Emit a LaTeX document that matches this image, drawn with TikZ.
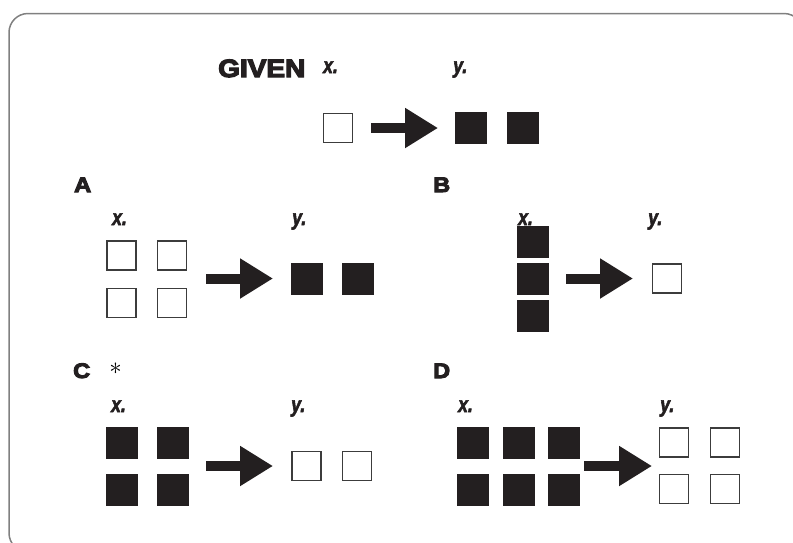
\documentclass[tikz,border=0pt]{standalone}
\usepackage{fontspec}
\usepackage{tikz}
\usetikzlibrary{arrows.meta, positioning}
\newfontfamily\titlefont{Liberation Sans}[BoldFeatures={FakeBold=5, FakeStretch=1.12}]
\newfontfamily\varfont{Liberation Sans}[BoldItalicFeatures={FakeBold=2.5, FakeStretch=0.8}]
\definecolor{boxblack}{HTML}{231F20}
\definecolor{framegray}{HTML}{808080}
\definecolor{boxedge}{HTML}{3C3C3C}
\tikzset{
	whitebox/.style = {shape=rectangle, draw=boxedge, line width=1.2pt,
		fill=white, minimum size=29pt, inner sep=0pt},
	blackbox/.style = {shape=rectangle, draw=boxblack, fill=boxblack,
		minimum size=31pt, inner sep=0pt},
	letter/.style   = {inner sep=0pt, anchor=base west, text=boxblack,
		font=\titlefont\bfseries\fontsize{21}{21}\selectfont},
	varlabel/.style = {inner sep=0pt, anchor=base west, text=boxblack,
		font=\varfont\bfseries\itshape\fontsize{22}{22}\selectfont},
	bigarrow/.style = {draw=boxblack, line width=10pt,
		-{Triangle[length=33pt, width=38pt]}}
}
\begin{document}
\begin{tikzpicture}
	[
	x = 1pt,
	y = -1pt
	]
	\useasboundingbox (0,0) rectangle (793,542);
	\draw [framegray, line width=1.5pt, rounded corners=19pt] (9,13.5) rectangle (803,552);

	% given
	\node [letter, font=\titlefont\bfseries\fontsize{25}{25}\selectfont] (given) at (218,77) {GIVEN};
	\node [varlabel] (givenx) at (323,73) {x.};
	\node [varlabel] (giveny) at (453,73) {y.};
	\node [whitebox] (G1) at (338,128) {};
	\node [blackbox] (G2) at (471,128) {};
	\node [blackbox, right=20pt of G2] (G3) {};
	\coordinate (Gfrom) at (371,128);
	\coordinate (Gto) at (438,128);
	\draw [bigarrow] (Gfrom) -- (Gto);

	% A
	\node [letter] (labA) at (74,192) {A};
	\node [varlabel] (Ax) at (112,225) {x.};
	\node [varlabel] (Ay) at (292,225) {y.};
	\node [whitebox] (A11) at (121.5,255.5) {};
	\node [whitebox, right=20pt of A11] (A12) {};
	\node [whitebox, below=17pt of A11] (A21) {};
	\node [whitebox, below=17pt of A12] (A22) {};
	\node [blackbox] (A31) at (306.5,278.5) {};
	\node [blackbox, right=20pt of A31] (A32) {};
	\coordinate (Afrom) at (206,278.5);
	\coordinate (Ato) at (273,278.5);
	\draw [bigarrow] (Afrom) -- (Ato);

	% B
	\node [letter] (labB) at (433,192) {B};
	\node [varlabel] (Bx) at (518,225) {x.};
	\node [varlabel] (By) at (648,225) {y.};
	\node [blackbox] (B1) at (532.5,242) {};
	\node [blackbox, below=5.5pt of B1] (B2) {};
	\node [blackbox, below=5.5pt of B2] (B3) {};
	\node [whitebox] (B4) at (667,278.5) {};
	\coordinate (Bfrom) at (566,278.5);
	\coordinate (Bto) at (633,278.5);
	\draw [bigarrow] (Bfrom) -- (Bto);

	% C
	\node [letter] (labC) at (73,378) {C};
	\node [inner sep=0pt, font=\fontsize{26}{26}\selectfont] (star) at (115.5,369) {$\ast$};
	\node [varlabel] (Cx) at (111,412) {x.};
	\node [varlabel] (Cy) at (291,412) {y.};
	\node [blackbox] (C11) at (121.5,442.5) {};
	\node [blackbox, right=20pt of C11] (C12) {};
	\node [blackbox, below=16pt of C11] (C21) {};
	\node [blackbox, below=16pt of C12] (C22) {};
	\node [whitebox] (C31) at (306.5,466) {};
	\node [whitebox, right=20pt of C31] (C32) {};
	\coordinate (Cfrom) at (206,466);
	\coordinate (Cto) at (273,466);
	\draw [bigarrow] (Cfrom) -- (Cto);

	% D
	\node [letter] (labD) at (433,378) {D};
	\node [varlabel] (Dx) at (458,412) {x.};
	\node [varlabel] (Dy) at (660,412) {y.};
	\node [blackbox] (D11) at (473,442.5) {};
	\node [blackbox, right=14pt of D11] (D12) {};
	\node [blackbox, right=14pt of D12] (D13) {};
	\node [blackbox, below=16pt of D11] (D21) {};
	\node [blackbox, below=16pt of D12] (D22) {};
	\node [blackbox, below=16pt of D13] (D23) {};
	\node [whitebox] (D31) at (674,442.5) {};
	\node [whitebox, right=21pt of D31] (D32) {};
	\node [whitebox, below=16pt of D31] (D41) {};
	\node [whitebox, below=16pt of D32] (D42) {};
	\coordinate (Dfrom) at (584,466);
	\coordinate (Dto) at (652,466);
	\draw [bigarrow] (Dfrom) -- (Dto);
\end{tikzpicture}
\end{document}
